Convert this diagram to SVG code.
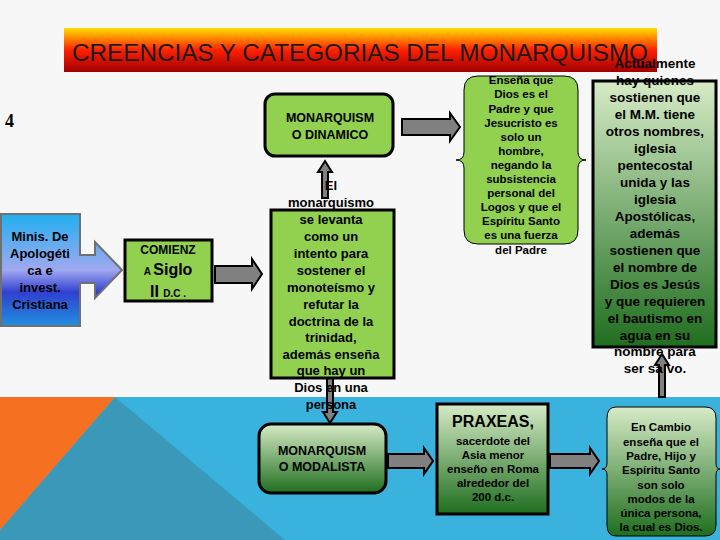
<svg xmlns="http://www.w3.org/2000/svg" width="720" height="540" viewBox="0 0 720 540">
<defs>
<linearGradient id="ttl" x1="0" y1="0" x2="0" y2="1"><stop offset="0" stop-color="#ffe000"/><stop offset="0.5" stop-color="#ff2000"/><stop offset="1" stop-color="#a00000"/></linearGradient>
<linearGradient id="blu" x1="0" y1="0" x2="0" y2="1"><stop offset="0" stop-color="#20b0f0"/><stop offset="0.5" stop-color="#a0a8f0"/><stop offset="0.7" stop-color="#3040d0"/><stop offset="1" stop-color="#2090e0"/></linearGradient>
<linearGradient id="grn" x1="0" y1="0" x2="0" y2="1"><stop offset="0" stop-color="#d6ebc6"/><stop offset="1" stop-color="#1f6e1f"/></linearGradient>
</defs>
<style>
.t{font-family:"Liberation Sans",Arial,sans-serif;font-weight:bold;text-anchor:middle;fill:#000}
.b{stroke:#000;stroke-width:3}
.ar{fill:#808080;stroke:#000;stroke-width:2}
</style>
<rect width="720" height="540" fill="#f7f7f7"/>
<rect x="0" y="397" width="720" height="143" fill="#3ab2de"/>
<polygon points="115,397 285,540 0,540 0,530" fill="#3a98b8"/>
<polygon points="0,397 115,397 0,530" fill="#f57020"/>
<rect x="64" y="28" width="593" height="44" fill="url(#ttl)"/>
<text x="72" y="61" font-family="Liberation Sans,Arial,sans-serif" font-size="24.5" textLength="576" lengthAdjust="spacingAndGlyphs" fill="#1a1a1a">CREENCIAS Y CATEGORIAS DEL MONARQUISMO</text>
<text x="5" y="127" font-family="Liberation Serif,serif" font-weight="bold" font-size="18">4</text>
<g id="connectors">
<polygon class="ar" points="215,266 252,266 252,259 262,274 252,289 252,283 215,283"/>
<polygon class="ar" points="322,198 322,172 318,172 325,161 332,172 328,172 328,198"/>
<polygon class="ar" points="402,119 450,119 450,113 460,127 450,141 450,135 402,135"/>
<polygon class="ar" points="327,378 333,378 333,412 337,412 330,423 323,412 327,412"/>
<polygon class="ar" points="388,454 424,454 424,448 433,461 424,474 424,468 388,468"/>
<polygon class="ar" points="550,454 590,454 590,448 599,461 590,474 590,468 550,468"/>
<polygon class="ar" points="659,397 665,397 665,365 669,365 662,354 655,365 659,365"/>
</g>
<g id="n1">
<polygon points="1,214 80,214 80,255 95,255 95,242 122,270 95,298 95,283 80,283 80,326 1,326" fill="url(#blu)" stroke="#707070" stroke-width="2"/>
<text class="t" font-size="13"><tspan x="40" y="241">Minis. De</tspan><tspan x="40" y="258">Apologéti</tspan><tspan x="40" y="275">ca e</tspan><tspan x="40" y="292">invest.</tspan><tspan x="40" y="309">Cristiana</tspan></text>
</g>
<g id="n2">
<rect x="125" y="240" width="87" height="61" fill="#92d050" class="b" stroke-width="2"/>
<text class="t" font-size="12"><tspan x="168" y="254">COMIENZ</tspan><tspan x="168" y="275"><tspan font-size="10">A </tspan><tspan font-size="16">Siglo</tspan></tspan><tspan x="168" y="297"><tspan font-size="16">II </tspan><tspan font-size="10">D.C .</tspan></tspan></text>
</g>
<g id="n3">
<rect x="265" y="94" width="128" height="62" rx="10" fill="#92d050" class="b"/>
<text class="t" font-size="12.5"><tspan x="330" y="122">MONARQUISM</tspan><tspan x="330" y="139">O DINAMICO</tspan></text>
</g>
<g id="n4">
<rect x="271" y="210" width="123" height="168" fill="#92d050" class="b"/>
<text class="t" font-size="13"><tspan x="331" y="190">El</tspan><tspan x="331" y="207">monarquismo</tspan><tspan x="331" y="224">se levanta</tspan><tspan x="331" y="241">como un</tspan><tspan x="331" y="258">intento para</tspan><tspan x="331" y="275">sostener el</tspan><tspan x="331" y="292">monoteísmo y</tspan><tspan x="331" y="309">refutar la</tspan><tspan x="331" y="326">doctrina de la</tspan><tspan x="331" y="342">trinidad,</tspan><tspan x="331" y="359">además enseña</tspan><tspan x="331" y="375">que hay  un</tspan><tspan x="331" y="392">Dios en una</tspan><tspan x="331" y="409">persona</tspan></text>
</g>
<g id="n5">
<path d="M478,76 H564 Q578,76 578,90 V152 Q578,160 586,160 Q578,160 578,168 V230 Q578,244 564,244 H478 Q464,244 464,230 V168 Q464,160 456,160 Q464,160 464,152 V90 Q464,76 478,76 Z" fill="#92d050" stroke="#000" stroke-width="1"/>
<text class="t" font-size="11.5"><tspan x="521" y="84">Enseña que</tspan><tspan x="521" y="98">Dios es el</tspan><tspan x="521" y="113">Padre y que</tspan><tspan x="521" y="127">Jesucristo es</tspan><tspan x="521" y="141">solo un</tspan><tspan x="521" y="155">hombre,</tspan><tspan x="521" y="169">negando la</tspan><tspan x="521" y="183">subsistencia</tspan><tspan x="521" y="197">personal del</tspan><tspan x="521" y="211">Logos y que el</tspan><tspan x="521" y="225">Espíritu Santo</tspan><tspan x="521" y="239">es una fuerza</tspan><tspan x="521" y="254">del Padre</tspan></text>
</g>
<g id="n6">
<rect x="593" y="81" width="123" height="266" fill="url(#grn)" class="b"/>
<text class="t" font-size="13.5"><tspan x="655" y="68">Actualmente</tspan><tspan x="655" y="85">hay quienes</tspan><tspan x="655" y="102">sostienen que</tspan><tspan x="655" y="119">el M.M. tiene</tspan><tspan x="655" y="136">otros nombres,</tspan><tspan x="655" y="153">iglesia</tspan><tspan x="655" y="170">pentecostal</tspan><tspan x="655" y="187">unida y las</tspan><tspan x="655" y="204">iglesia</tspan><tspan x="655" y="221">Apostólicas,</tspan><tspan x="655" y="238">además</tspan><tspan x="655" y="255">sostienen que</tspan><tspan x="655" y="272">el nombre de</tspan><tspan x="655" y="289">Dios es Jesús</tspan><tspan x="655" y="306">y que requieren</tspan><tspan x="655" y="323">el bautismo en</tspan><tspan x="655" y="340">agua en su</tspan><tspan x="655" y="356">nombre para</tspan><tspan x="655" y="373">ser salvo.</tspan></text>
</g>
<g id="n7">
<rect x="259" y="424" width="127" height="69" rx="12" fill="url(#grn)" class="b"/>
<text class="t" font-size="12.5"><tspan x="322" y="455">MONARQUISM</tspan><tspan x="322" y="471">O MODALISTA</tspan></text>
</g>
<g id="n8">
<rect x="437" y="404" width="111" height="110" fill="url(#grn)" class="b"/>
<text class="t" font-size="16"><tspan x="493" y="427">PRAXEAS,</tspan></text>
<text class="t" font-size="11.5" font-weight="normal"><tspan x="493" y="445">sacerdote del</tspan><tspan x="493" y="459">Asia menor</tspan><tspan x="493" y="473">enseño en Roma</tspan><tspan x="493" y="487">alrededor del</tspan><tspan x="493" y="501">200 d.c.</tspan></text>
</g>
<g id="n9">
<path d="M616,407 H705 Q716,407 716,418 V463 Q716,469 720,469 Q716,469 716,475 V525 Q716,536 705,536 H616 Q607,536 607,525 V475 Q607,469 602,469 Q607,469 607,463 V418 Q607,407 616,407 Z" fill="url(#grn)" stroke="#000" stroke-width="1"/>
<text class="t" font-size="11.5" font-weight="normal"><tspan x="661" y="431">En Cambio</tspan><tspan x="661" y="446">enseña que el</tspan><tspan x="661" y="460">Padre, Hijo  y</tspan><tspan x="661" y="474">Espíritu Santo</tspan><tspan x="661" y="489">son solo</tspan><tspan x="661" y="503">modos de la</tspan><tspan x="661" y="517">única persona,</tspan><tspan x="661" y="531">la cual es Dios.</tspan></text>
</g>
</svg>
